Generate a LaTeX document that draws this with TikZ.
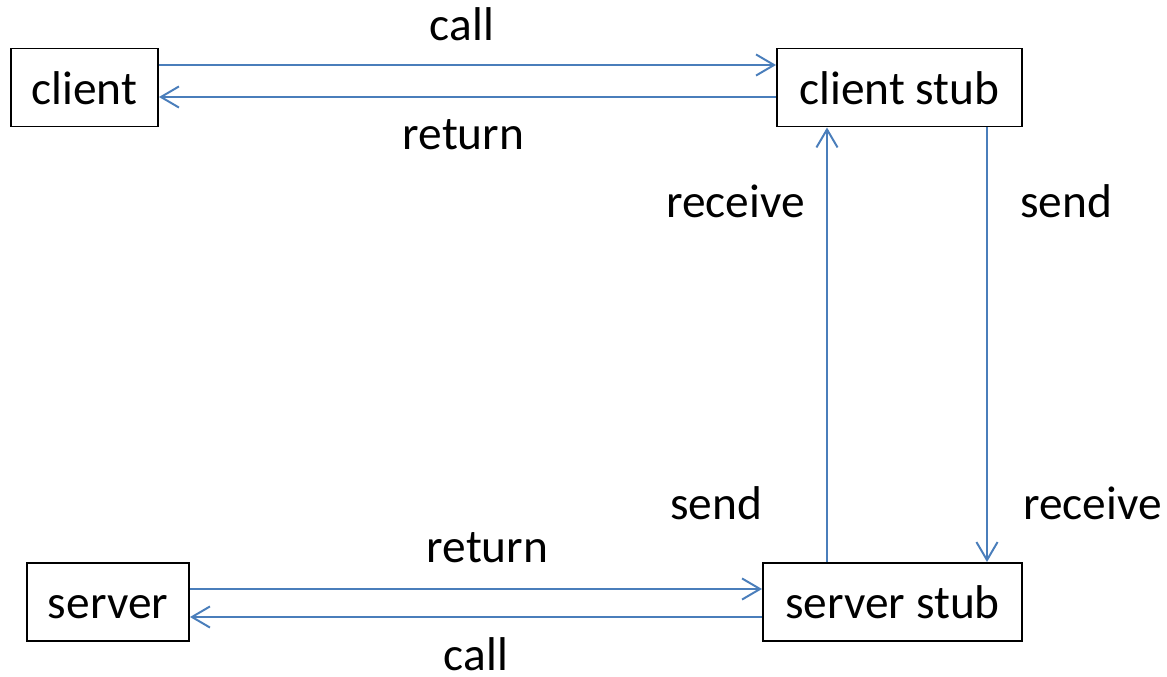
\documentclass[tikz,border=0pt]{standalone}
\usepackage{fontspec}
\setmainfont{Carlito}
\usepackage{xcolor}
\usetikzlibrary{arrows.meta,calc,positioning}
\definecolor{linkblue}{RGB}{74,126,187}
\tikzset{
  box/.style={draw,line width=1.4pt,minimum height=1.95cm,text height=23.5pt,text depth=0pt,inner sep=0pt},
  link/.style={linkblue,line width=1.4pt,-{Straight Barb[length=12.8pt,width=15pt]}},
  lbl/.style={anchor=base,inner sep=0pt}
}

\begin{document}
\begin{tikzpicture}[x=0.025cm,y=-0.025cm,font=\fontsize{33.7}{40}\selectfont]
\useasboundingbox (0,0) rectangle (1167,677);
% boxes
\node[box,minimum width=3.675cm] (client) at (84.5,87.5) {client};
\node[box,minimum width=6.125cm] (cstub) at (899.5,87.5) {client stub};
\node[box,minimum width=4.05cm] (server) at (108,602) {server};
\node[box,minimum width=6.475cm] (sstub) at (892.5,602) {server stub};
% where the links run
\coordinate (cally) at (0,65); \coordinate (rety) at (0,97);
\coordinate (srety) at (0,589); \coordinate (scally) at (0,617);
\coordinate (upx) at (827,0); \coordinate (downx) at (987,0);
% links
\draw[link] (client.east |- cally) -- (cstub.west |- cally);
\draw[link] (cstub.west |- rety) -- (client.east |- rety);
\draw[link] (sstub.north -| upx) -- (cstub.south -| upx);
\draw[link] (cstub.south -| downx) -- (sstub.north -| downx);
\draw[link] (server.east |- srety) -- (sstub.west |- srety);
\draw[link] (sstub.west |- scally) -- (server.east |- scally);
% labels
\node[lbl] (lcall) at (462,40) {call};
\node[lbl] (lret) at (463.5,149) {return};
\node[lbl] (lrecv) at (735.5,217) {receive};
\node[lbl] (lsend) at (1066,217) {send};
\node[lbl] (lsend2) at (716,519) {send};
\node[lbl] (lrecv2) at (1092.5,519) {receive};
\node[lbl] (lret2) at (487.5,562) {return};
\node[lbl] (lcall2) at (476,670) {call};
\end{tikzpicture}
\end{document}
